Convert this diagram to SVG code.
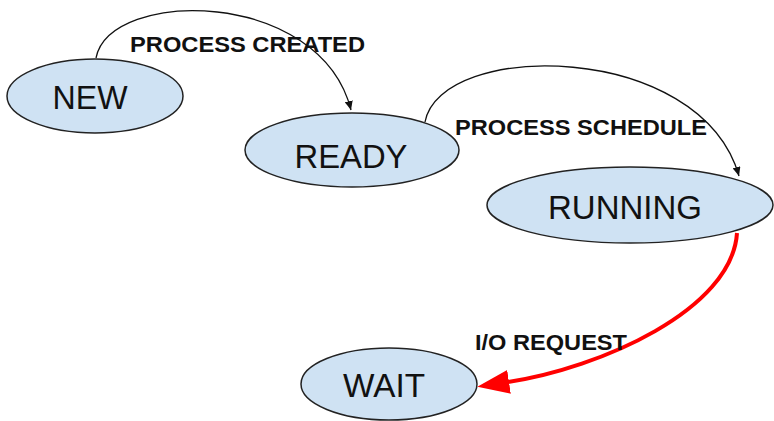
<svg xmlns="http://www.w3.org/2000/svg" width="774" height="421" viewBox="0 0 774 421">
<style>
.node ellipse{fill:#cfe2f3;stroke:#222;stroke-width:1.5}
.node text{font-family:"Liberation Sans",Arial,sans-serif;font-size:34px;fill:#111;text-anchor:middle}
.lbl{font-family:"Liberation Sans",Arial,sans-serif;font-size:22px;font-weight:bold;fill:#111}
.edge{fill:none;stroke:#111;stroke-width:1.3}
.red{fill:none;stroke:#f00;stroke-width:4}
</style>
<defs>
<marker id="ab" markerUnits="userSpaceOnUse" markerWidth="10" markerHeight="8" refX="9" refY="4" orient="auto"><path d="M0,0 L9,4 L0,8 Z" fill="#111"/></marker>
<marker id="ar" markerUnits="userSpaceOnUse" markerWidth="34" markerHeight="26" refX="1" refY="12" orient="auto"><path d="M0,0 L32,12 L0,24 Z" fill="#f00"/></marker>
</defs>
<g id="connectors">
<path class="edge" d="M96 58 C110 -12, 320 -12, 351 110" marker-end="url(#ab)"/>
<path class="edge" d="M425 122 C440 40, 700 40, 739 176" marker-end="url(#ab)"/>
<path class="red" d="M737 233 C732 310, 600 368, 508 382" marker-end="url(#ar)"/>
<text class="lbl" x="130" y="52" textLength="235" lengthAdjust="spacingAndGlyphs">PROCESS CREATED</text>
<text class="lbl" x="455" y="135" textLength="252" lengthAdjust="spacingAndGlyphs">PROCESS SCHEDULE</text>
<text class="lbl" x="475" y="350" textLength="152" lengthAdjust="spacingAndGlyphs">I/O REQUEST</text>
</g>
<g id="new" class="node"><ellipse cx="95" cy="96" rx="88" ry="37"/><text x="90" y="109" textLength="75" lengthAdjust="spacingAndGlyphs">NEW</text></g>
<g id="ready" class="node"><ellipse cx="352" cy="150" rx="107" ry="37"/><text x="351" y="168" textLength="113" lengthAdjust="spacingAndGlyphs">READY</text></g>
<g id="running" class="node"><ellipse cx="630" cy="205" rx="143" ry="38"/><text x="625" y="219" textLength="154" lengthAdjust="spacingAndGlyphs">RUNNING</text></g>
<g id="wait" class="node"><ellipse cx="389" cy="384" rx="88" ry="36"/><text x="384" y="397" textLength="82" lengthAdjust="spacingAndGlyphs">WAIT</text></g>
</svg>
